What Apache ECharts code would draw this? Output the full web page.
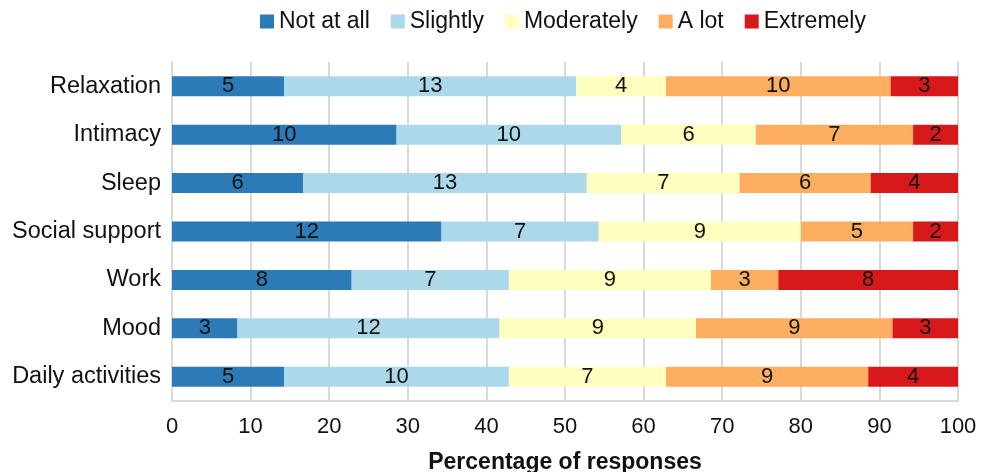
<!DOCTYPE html>
<html>
<head>
<meta charset="utf-8">
<script src="https://cdn.jsdelivr.net/npm/echarts@6/dist/echarts.min.js"></script>
<style>
  html, body { margin: 0; padding: 0; background: #fff; }
  #chart { width: 981px; height: 472px; }
</style>
</head>
<body>
<div id="chart"></div>
<script>
// Response counts per domain, one array per answer level
const categories = ['Relaxation', 'Intimacy', 'Sleep', 'Social support', 'Work', 'Mood', 'Daily activities'];
const levels = ['Not at all', 'Slightly', 'Moderately', 'A lot', 'Extremely'];
const notAtAll   = [5, 10, 6, 12, 8, 3, 5];
const slightly   = [13, 10, 13, 7, 7, 12, 10];
const moderately = [4, 6, 7, 9, 9, 9, 7];
const aLot       = [10, 7, 6, 5, 3, 9, 9];
const extremely  = [3, 2, 4, 2, 8, 3, 4];
const xTicks = [0, 10, 20, 30, 40, 50, 60, 70, 80, 90, 100];

const counts = [notAtAll, slightly, moderately, aLot, extremely];
const colors = ['#2c7bb6', '#abd9e9', '#ffffbf', '#fdae61', '#d7191c'];

// Row totals, used to turn counts into percentages of responses
const totals = categories.map((_, i) => counts.reduce((s, arr) => s + arr[i], 0));

const font = 'Liberation Sans, Arial, sans-serif';

const series = levels.map((name, k) => ({
  name,
  type: 'bar',
  stack: 'all',
  barWidth: 20,
  itemStyle: { color: colors[k] },
  label: {
    show: true,
    position: 'inside',
    color: '#111',
    fontSize: 22,
    fontFamily: font,
    formatter: p => String(counts[k][p.dataIndex])
  },
  emphasis: { disabled: true },
  data: counts[k].map((c, i) => c / totals[i] * 100)
}));

const chart = echarts.init(document.getElementById('chart'), null, { renderer: 'canvas' });
chart.setOption({
  animation: false,
  backgroundColor: '#fff',
  textStyle: { fontFamily: font },
  legend: {
    data: levels,
    top: 10,
    left: 260,
    padding: 0,
    itemWidth: 14,
    itemHeight: 14,
    itemGap: 21,
    icon: 'rect',
    textStyle: { fontSize: 23, color: '#111', fontFamily: font }
  },
  grid: { left: 172, right: 23, top: 62, bottom: 71, containLabel: false, outerBoundsMode: 'none' },
  xAxis: {
    type: 'value',
    min: xTicks[0],
    max: xTicks[xTicks.length - 1],
    interval: xTicks[1] - xTicks[0],
    name: 'Percentage of responses',
    nameLocation: 'middle',
    nameGap: 50,
    nameTextStyle: { fontSize: 23, fontWeight: 'bold', color: '#111', fontFamily: font },
    axisLine: { show: true, lineStyle: { color: '#d9d9d9', width: 2 } },
    axisTick: { show: false },
    axisLabel: { fontSize: 22, color: '#111', margin: 15, fontFamily: font },
    splitLine: { show: true, lineStyle: { color: '#d9d9d9', width: 2 } }
  },
  yAxis: {
    type: 'category',
    data: categories,
    inverse: true,
    axisLine: { show: true, lineStyle: { color: '#d9d9d9', width: 2 } },
    axisTick: { show: false },
    axisLabel: { fontSize: 23.5, color: '#111', margin: 11, fontFamily: font }
  },
  series
});
</script>
</body>
</html>
